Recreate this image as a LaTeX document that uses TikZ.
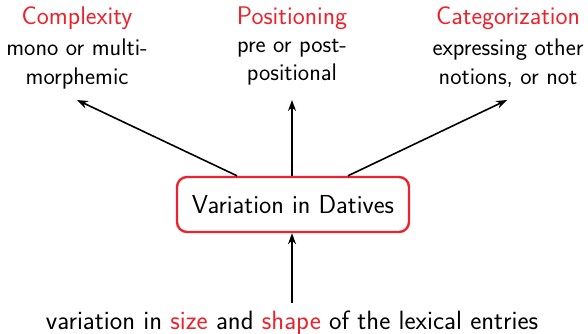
\documentclass[tikz,border=0pt]{standalone}
\usetikzlibrary{arrows.meta}
\definecolor{myred}{RGB}{235,35,45}
\begin{document}
\begin{tikzpicture}[x=1pt,y=-1pt,
  every node/.style={font=\sffamily},
  title/.style={text=myred,font=\sffamily\fontsize{25.5}{30}\selectfont,inner sep=0pt},
  desc/.style={align=center,font=\sffamily\fontsize{24}{28.5}\selectfont,inner sep=0pt},
  mainbox/.style={draw=myred,line width=2.4pt,rounded corners=10pt,minimum width=232pt,minimum height=55pt,font=\sffamily\fontsize{26}{30}\selectfont},
  arr/.style={-{Stealth[length=11pt,width=8pt]},line width=1.6pt}]
\useasboundingbox (0,0) rectangle (588,334);
\node[title] (t1) at (77,18) {Complexity};
\node[title] (t2) at (292,18) {Positioning};
\node[title] (t3) at (508,18) {Categorization};
\node[desc,anchor=north] (d1) at (77,39) {mono or multi-\\morphemic};
\node[desc,anchor=north] (d2) at (292,39) {pre or post-\\positional};
\node[desc,anchor=north] (d3) at (508,39) {expressing other\\notions, or not};
\coordinate (e1) at (77,100);
\coordinate (e2) at (292,100);
\coordinate (e3) at (507,100);
\node[mainbox] (box) at (293,204.5) {Variation in Datives};
\node[font=\sffamily\fontsize{26.5}{30}\selectfont,inner sep=0pt] (bot) at (292,323) {variation in \textcolor{myred}{size} and \textcolor{myred}{shape} of the lexical entries};
\draw[arr] ([xshift=-56pt]box.north) -- (e1);
\draw[arr] ([xshift=-1pt]box.north) -- (e2);
\draw[arr] ([xshift=55pt]box.north) -- (e3);
\coordinate (b0) at (292,303);
\draw[arr] (b0) -- (b0 |- box.south);
\end{tikzpicture}
\end{document}
